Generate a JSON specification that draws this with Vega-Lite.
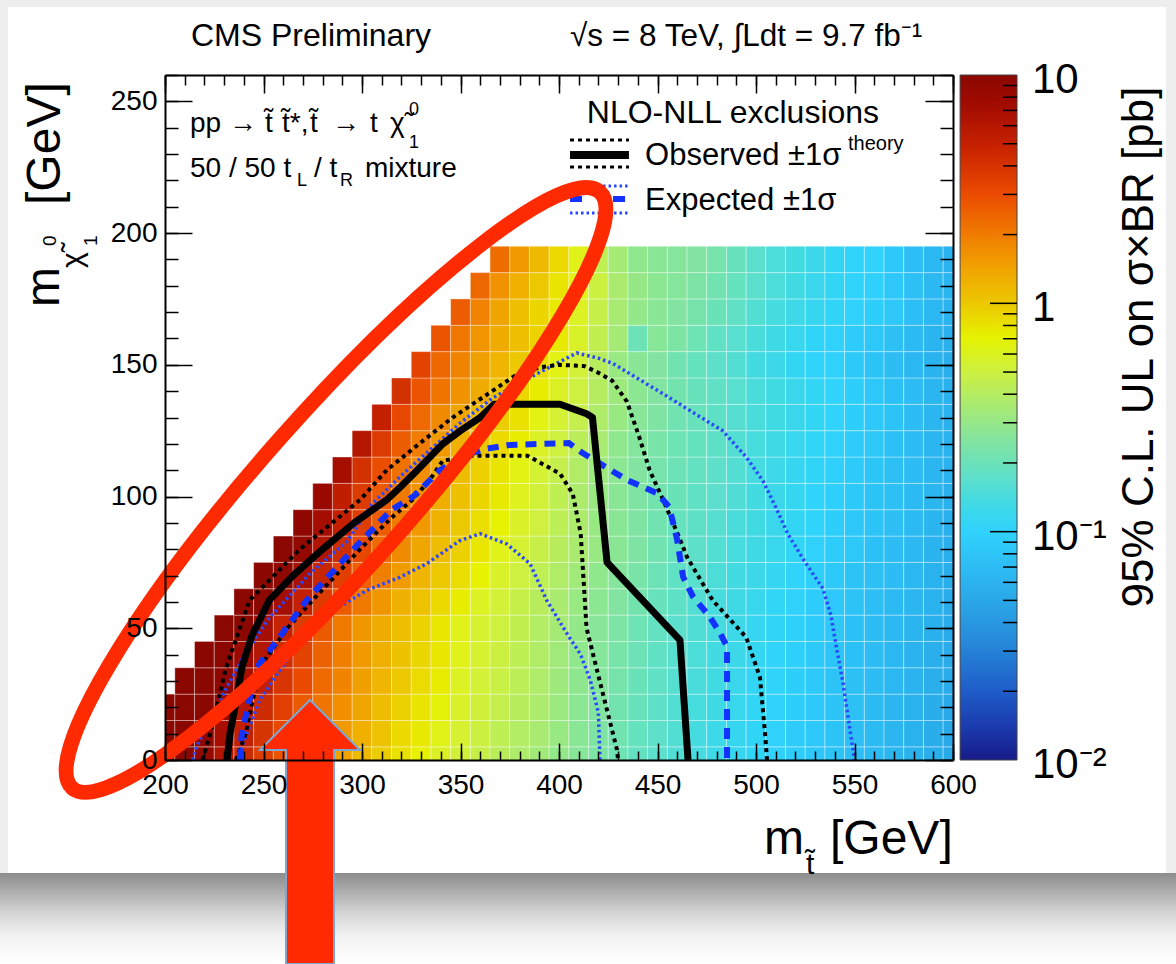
{
"$schema":"https://vega.github.io/schema/vega-lite/v6.json",
"width":788,"height":685,
"autosize":{"type":"none"},
"padding":{"left":165,"top":75,"right":223,"bottom":204},
"background":"#ffffff",
"config":{
 "view":{"stroke":null},
 "axis":{"grid":false,"title":null,"zindex":1,"domainColor":"#000000","domainWidth":2,"tickColor":"#000000","tickWidth":1.5,"labelColor":"#000000","labelFont":"Liberation Sans","labelFontSize":28,"labelFlush":false,"labelOverlap":false,"labelBound":false},
 "text":{"font":"Liberation Sans","color":"#000000"}
},
"resolve":{"scale":{"y":"independent"},"axis":{"x":"independent","y":"independent"}},
"layer":[
{"resolve":{"axis":{"x":"independent","y":"independent"}},
 "layer":[
{"data":{"values":[{}]},"mark":{"type":"rect","fill":"#eeeeee"},
 "encoding":{"x":{"datum":116.2,"type":"quantitative","axis":null},"x2":{"datum":713.2},"y":{"datum":288.5,"type":"quantitative","axis":null},"y2":{"datum":285.8}}},
{"data":{"values":[{}]},"mark":{"type":"rect","fill":"#eeeeee"},
 "encoding":{"x":{"datum":116.2,"type":"quantitative","axis":null},"x2":{"datum":120.3},"y":{"datum":288.5,"type":"quantitative","axis":null},"y2":{"datum":-42.9}}},
{"data":{"values":[{}]},"mark":{"type":"rect","fill":"#eeeeee"},
 "encoding":{"x":{"datum":708.1,"type":"quantitative","axis":null},"x2":{"datum":713.2},"y":{"datum":288.5,"type":"quantitative","axis":null},"y2":{"datum":-42.9}}},
{"data":{"values":[{}]},"mark":{"type":"rect","fill":{"gradient":"linear","x1":0,"y1":0,"x2":0,"y2":1,"stops":[{"offset":0,"color":"#8c8c8c"},{"offset":0.2,"color":"#adadad"},{"offset":0.45,"color":"#d6d6d6"},{"offset":0.7,"color":"#f2f2f2"},{"offset":1,"color":"#ffffff"}]}},
 "encoding":{"x":{"datum":116.2,"type":"quantitative","axis":null},"x2":{"datum":713.2},"y":{"datum":-42.9,"type":"quantitative","axis":null},"y2":{"datum":-77.4}}},
{"data":{"values":[{}]},"mark":{"type":"rect","stroke":"#444444","strokeWidth":1,"fill":{"gradient":"linear","x1":0,"y1":0,"x2":0,"y2":1,"stops":[{"offset":0,"color":"#8a0800"},{"offset":0.04,"color":"#a00a00"},{"offset":0.1,"color":"#c42000"},{"offset":0.1733,"color":"#ea4a00"},{"offset":0.2333,"color":"#f07c00"},{"offset":0.2833,"color":"#f0a400"},{"offset":0.3333,"color":"#ecc800"},{"offset":0.3833,"color":"#e6f200"},{"offset":0.4333,"color":"#ccf040"},{"offset":0.4833,"color":"#a8ea72"},{"offset":0.5333,"color":"#82e4a0"},{"offset":0.59,"color":"#5cdfcc"},{"offset":0.6333,"color":"#3cd8ea"},{"offset":0.6667,"color":"#30d2fc"},{"offset":0.7167,"color":"#2dbdf4"},{"offset":0.7667,"color":"#2aa8e8"},{"offset":0.8333,"color":"#2586d8"},{"offset":0.9,"color":"#1f5cc8"},{"offset":0.95,"color":"#1b3cae"},{"offset":1,"color":"#171a88"}]}},
 "encoding":{"x":{"datum":603.6,"type":"quantitative","axis":null},"x2":{"datum":632.5},"y":{"datum":260,"type":"quantitative","axis":null},"y2":{"datum":0}}},
{"data":{"values":[
{"x":200,"y":0,"v":1},{"x":210,"y":0,"v":1},{"x":220,"y":0,"v":0.95},{"x":230,"y":0,"v":0.8},{"x":240,"y":0,"v":0.66},{"x":250,"y":0,"v":0.55},{"x":260,"y":0,"v":0.45},{"x":270,"y":0,"v":0.35},{"x":280,"y":0,"v":0.25},{"x":290,"y":0,"v":0.15},{"x":300,"y":0,"v":0.06},{"x":310,"y":0,"v":-0.02},{"x":320,"y":0,"v":-0.09},{"x":330,"y":0,"v":-0.15},{"x":340,"y":0,"v":-0.21},{"x":350,"y":0,"v":-0.27},{"x":360,"y":0,"v":-0.32},{"x":370,"y":0,"v":-0.37},{"x":380,"y":0,"v":-0.42},{"x":390,"y":0,"v":-0.47},{"x":400,"y":0,"v":-0.52},{"x":410,"y":0,"v":-0.57},{"x":420,"y":0,"v":-0.62},{"x":430,"y":0,"v":-0.67},{"x":440,"y":0,"v":-0.72},{"x":450,"y":0,"v":-0.77},{"x":460,"y":0,"v":-0.81},{"x":470,"y":0,"v":-0.85},{"x":480,"y":0,"v":-0.89},{"x":490,"y":0,"v":-0.93},{"x":500,"y":0,"v":-0.97},{"x":510,"y":0,"v":-1},{"x":520,"y":0,"v":-1.04},{"x":530,"y":0,"v":-1.07},{"x":540,"y":0,"v":-1.11},{"x":550,"y":0,"v":-1.14},{"x":560,"y":0,"v":-1.17},{"x":570,"y":0,"v":-1.2},{"x":580,"y":0,"v":-1.23},{"x":590,"y":0,"v":-1.26},{"x":600,"y":0,"v":-1.29},
{"x":200,"y":10,"v":1},{"x":210,"y":10,"v":1},{"x":220,"y":10,"v":0.98},{"x":230,"y":10,"v":0.85},{"x":240,"y":10,"v":0.71},{"x":250,"y":10,"v":0.6},{"x":260,"y":10,"v":0.49},{"x":270,"y":10,"v":0.39},{"x":280,"y":10,"v":0.29},{"x":290,"y":10,"v":0.19},{"x":300,"y":10,"v":0.1},{"x":310,"y":10,"v":0.02},{"x":320,"y":10,"v":-0.06},{"x":330,"y":10,"v":-0.12},{"x":340,"y":10,"v":-0.18},{"x":350,"y":10,"v":-0.24},{"x":360,"y":10,"v":-0.3},{"x":370,"y":10,"v":-0.35},{"x":380,"y":10,"v":-0.4},{"x":390,"y":10,"v":-0.45},{"x":400,"y":10,"v":-0.5},{"x":410,"y":10,"v":-0.56},{"x":420,"y":10,"v":-0.61},{"x":430,"y":10,"v":-0.66},{"x":440,"y":10,"v":-0.71},{"x":450,"y":10,"v":-0.76},{"x":460,"y":10,"v":-0.8},{"x":470,"y":10,"v":-0.85},{"x":480,"y":10,"v":-0.89},{"x":490,"y":10,"v":-0.93},{"x":500,"y":10,"v":-0.97},{"x":510,"y":10,"v":-1},{"x":520,"y":10,"v":-1.04},{"x":530,"y":10,"v":-1.07},{"x":540,"y":10,"v":-1.1},{"x":550,"y":10,"v":-1.14},{"x":560,"y":10,"v":-1.17},{"x":570,"y":10,"v":-1.2},{"x":580,"y":10,"v":-1.23},{"x":590,"y":10,"v":-1.26},{"x":600,"y":10,"v":-1.29},
{"x":200,"y":20,"v":1},{"x":210,"y":20,"v":1},{"x":220,"y":20,"v":1},{"x":230,"y":20,"v":0.9},{"x":240,"y":20,"v":0.77},{"x":250,"y":20,"v":0.65},{"x":260,"y":20,"v":0.54},{"x":270,"y":20,"v":0.43},{"x":280,"y":20,"v":0.33},{"x":290,"y":20,"v":0.23},{"x":300,"y":20,"v":0.14},{"x":310,"y":20,"v":0.05},{"x":320,"y":20,"v":-0.03},{"x":330,"y":20,"v":-0.1},{"x":340,"y":20,"v":-0.16},{"x":350,"y":20,"v":-0.22},{"x":360,"y":20,"v":-0.28},{"x":370,"y":20,"v":-0.33},{"x":380,"y":20,"v":-0.38},{"x":390,"y":20,"v":-0.43},{"x":400,"y":20,"v":-0.49},{"x":410,"y":20,"v":-0.55},{"x":420,"y":20,"v":-0.6},{"x":430,"y":20,"v":-0.65},{"x":440,"y":20,"v":-0.7},{"x":450,"y":20,"v":-0.75},{"x":460,"y":20,"v":-0.8},{"x":470,"y":20,"v":-0.84},{"x":480,"y":20,"v":-0.88},{"x":490,"y":20,"v":-0.92},{"x":500,"y":20,"v":-0.96},{"x":510,"y":20,"v":-1},{"x":520,"y":20,"v":-1.03},{"x":530,"y":20,"v":-1.07},{"x":540,"y":20,"v":-1.1},{"x":550,"y":20,"v":-1.13},{"x":560,"y":20,"v":-1.17},{"x":570,"y":20,"v":-1.2},{"x":580,"y":20,"v":-1.23},{"x":590,"y":20,"v":-1.26},{"x":600,"y":20,"v":-1.29},
{"x":210,"y":30,"v":1},{"x":220,"y":30,"v":1},{"x":230,"y":30,"v":0.97},{"x":240,"y":30,"v":0.84},{"x":250,"y":30,"v":0.71},{"x":260,"y":30,"v":0.59},{"x":270,"y":30,"v":0.48},{"x":280,"y":30,"v":0.37},{"x":290,"y":30,"v":0.27},{"x":300,"y":30,"v":0.17},{"x":310,"y":30,"v":0.08},{"x":320,"y":30,"v":0},{"x":330,"y":30,"v":-0.07},{"x":340,"y":30,"v":-0.13},{"x":350,"y":30,"v":-0.2},{"x":360,"y":30,"v":-0.26},{"x":370,"y":30,"v":-0.31},{"x":380,"y":30,"v":-0.36},{"x":390,"y":30,"v":-0.42},{"x":400,"y":30,"v":-0.48},{"x":410,"y":30,"v":-0.54},{"x":420,"y":30,"v":-0.59},{"x":430,"y":30,"v":-0.64},{"x":440,"y":30,"v":-0.69},{"x":450,"y":30,"v":-0.74},{"x":460,"y":30,"v":-0.79},{"x":470,"y":30,"v":-0.83},{"x":480,"y":30,"v":-0.87},{"x":490,"y":30,"v":-0.91},{"x":500,"y":30,"v":-0.95},{"x":510,"y":30,"v":-0.99},{"x":520,"y":30,"v":-1.03},{"x":530,"y":30,"v":-1.06},{"x":540,"y":30,"v":-1.1},{"x":550,"y":30,"v":-1.13},{"x":560,"y":30,"v":-1.16},{"x":570,"y":30,"v":-1.19},{"x":580,"y":30,"v":-1.22},{"x":590,"y":30,"v":-1.25},{"x":600,"y":30,"v":-1.28},
{"x":220,"y":40,"v":1},{"x":230,"y":40,"v":1},{"x":240,"y":40,"v":0.92},{"x":250,"y":40,"v":0.78},{"x":260,"y":40,"v":0.64},{"x":270,"y":40,"v":0.52},{"x":280,"y":40,"v":0.4},{"x":290,"y":40,"v":0.29},{"x":300,"y":40,"v":0.19},{"x":310,"y":40,"v":0.1},{"x":320,"y":40,"v":0.02},{"x":330,"y":40,"v":-0.05},{"x":340,"y":40,"v":-0.11},{"x":350,"y":40,"v":-0.18},{"x":360,"y":40,"v":-0.24},{"x":370,"y":40,"v":-0.3},{"x":380,"y":40,"v":-0.35},{"x":390,"y":40,"v":-0.41},{"x":400,"y":40,"v":-0.47},{"x":410,"y":40,"v":-0.53},{"x":420,"y":40,"v":-0.58},{"x":430,"y":40,"v":-0.63},{"x":440,"y":40,"v":-0.68},{"x":450,"y":40,"v":-0.73},{"x":460,"y":40,"v":-0.78},{"x":470,"y":40,"v":-0.82},{"x":480,"y":40,"v":-0.86},{"x":490,"y":40,"v":-0.9},{"x":500,"y":40,"v":-0.94},{"x":510,"y":40,"v":-0.98},{"x":520,"y":40,"v":-1.02},{"x":530,"y":40,"v":-1.06},{"x":540,"y":40,"v":-1.09},{"x":550,"y":40,"v":-1.12},{"x":560,"y":40,"v":-1.16},{"x":570,"y":40,"v":-1.19},{"x":580,"y":40,"v":-1.22},{"x":590,"y":40,"v":-1.25},{"x":600,"y":40,"v":-1.28},
{"x":230,"y":50,"v":1},{"x":240,"y":50,"v":1},{"x":250,"y":50,"v":0.85},{"x":260,"y":50,"v":0.69},{"x":270,"y":50,"v":0.56},{"x":280,"y":50,"v":0.43},{"x":290,"y":50,"v":0.31},{"x":300,"y":50,"v":0.2},{"x":310,"y":50,"v":0.12},{"x":320,"y":50,"v":0.04},{"x":330,"y":50,"v":-0.04},{"x":340,"y":50,"v":-0.11},{"x":350,"y":50,"v":-0.18},{"x":360,"y":50,"v":-0.24},{"x":370,"y":50,"v":-0.29},{"x":380,"y":50,"v":-0.34},{"x":390,"y":50,"v":-0.4},{"x":400,"y":50,"v":-0.46},{"x":410,"y":50,"v":-0.52},{"x":420,"y":50,"v":-0.57},{"x":430,"y":50,"v":-0.62},{"x":440,"y":50,"v":-0.67},{"x":450,"y":50,"v":-0.72},{"x":460,"y":50,"v":-0.77},{"x":470,"y":50,"v":-0.81},{"x":480,"y":50,"v":-0.85},{"x":490,"y":50,"v":-0.89},{"x":500,"y":50,"v":-0.93},{"x":510,"y":50,"v":-0.97},{"x":520,"y":50,"v":-1.01},{"x":530,"y":50,"v":-1.05},{"x":540,"y":50,"v":-1.08},{"x":550,"y":50,"v":-1.12},{"x":560,"y":50,"v":-1.15},{"x":570,"y":50,"v":-1.18},{"x":580,"y":50,"v":-1.21},{"x":590,"y":50,"v":-1.24},{"x":600,"y":50,"v":-1.27},
{"x":240,"y":60,"v":1},{"x":250,"y":60,"v":1},{"x":260,"y":60,"v":0.86},{"x":270,"y":60,"v":0.7},{"x":280,"y":60,"v":0.56},{"x":290,"y":60,"v":0.43},{"x":300,"y":60,"v":0.31},{"x":310,"y":60,"v":0.2},{"x":320,"y":60,"v":0.1},{"x":330,"y":60,"v":0.02},{"x":340,"y":60,"v":-0.06},{"x":350,"y":60,"v":-0.13},{"x":360,"y":60,"v":-0.2},{"x":370,"y":60,"v":-0.26},{"x":380,"y":60,"v":-0.32},{"x":390,"y":60,"v":-0.38},{"x":400,"y":60,"v":-0.44},{"x":410,"y":60,"v":-0.5},{"x":420,"y":60,"v":-0.55},{"x":430,"y":60,"v":-0.6},{"x":440,"y":60,"v":-0.65},{"x":450,"y":60,"v":-0.7},{"x":460,"y":60,"v":-0.75},{"x":470,"y":60,"v":-0.8},{"x":480,"y":60,"v":-0.84},{"x":490,"y":60,"v":-0.88},{"x":500,"y":60,"v":-0.92},{"x":510,"y":60,"v":-0.96},{"x":520,"y":60,"v":-1},{"x":530,"y":60,"v":-1.04},{"x":540,"y":60,"v":-1.07},{"x":550,"y":60,"v":-1.11},{"x":560,"y":60,"v":-1.14},{"x":570,"y":60,"v":-1.17},{"x":580,"y":60,"v":-1.2},{"x":590,"y":60,"v":-1.23},{"x":600,"y":60,"v":-1.27},
{"x":250,"y":70,"v":1},{"x":260,"y":70,"v":0.98},{"x":270,"y":70,"v":0.84},{"x":280,"y":70,"v":0.68},{"x":290,"y":70,"v":0.54},{"x":300,"y":70,"v":0.41},{"x":310,"y":70,"v":0.29},{"x":320,"y":70,"v":0.18},{"x":330,"y":70,"v":0.08},{"x":340,"y":70,"v":0},{"x":350,"y":70,"v":-0.08},{"x":360,"y":70,"v":-0.15},{"x":370,"y":70,"v":-0.22},{"x":380,"y":70,"v":-0.29},{"x":390,"y":70,"v":-0.35},{"x":400,"y":70,"v":-0.41},{"x":410,"y":70,"v":-0.47},{"x":420,"y":70,"v":-0.53},{"x":430,"y":70,"v":-0.58},{"x":440,"y":70,"v":-0.63},{"x":450,"y":70,"v":-0.68},{"x":460,"y":70,"v":-0.73},{"x":470,"y":70,"v":-0.78},{"x":480,"y":70,"v":-0.82},{"x":490,"y":70,"v":-0.86},{"x":500,"y":70,"v":-0.9},{"x":510,"y":70,"v":-0.94},{"x":520,"y":70,"v":-0.98},{"x":530,"y":70,"v":-1.02},{"x":540,"y":70,"v":-1.06},{"x":550,"y":70,"v":-1.1},{"x":560,"y":70,"v":-1.13},{"x":570,"y":70,"v":-1.16},{"x":580,"y":70,"v":-1.19},{"x":590,"y":70,"v":-1.23},{"x":600,"y":70,"v":-1.26},
{"x":260,"y":80,"v":1},{"x":270,"y":80,"v":0.95},{"x":280,"y":80,"v":0.8},{"x":290,"y":80,"v":0.64},{"x":300,"y":80,"v":0.5},{"x":310,"y":80,"v":0.37},{"x":320,"y":80,"v":0.25},{"x":330,"y":80,"v":0.14},{"x":340,"y":80,"v":0.05},{"x":350,"y":80,"v":-0.03},{"x":360,"y":80,"v":-0.11},{"x":370,"y":80,"v":-0.18},{"x":380,"y":80,"v":-0.25},{"x":390,"y":80,"v":-0.32},{"x":400,"y":80,"v":-0.38},{"x":410,"y":80,"v":-0.44},{"x":420,"y":80,"v":-0.5},{"x":430,"y":80,"v":-0.56},{"x":440,"y":80,"v":-0.61},{"x":450,"y":80,"v":-0.66},{"x":460,"y":80,"v":-0.71},{"x":470,"y":80,"v":-0.76},{"x":480,"y":80,"v":-0.8},{"x":490,"y":80,"v":-0.84},{"x":500,"y":80,"v":-0.88},{"x":510,"y":80,"v":-0.92},{"x":520,"y":80,"v":-0.96},{"x":530,"y":80,"v":-1},{"x":540,"y":80,"v":-1.04},{"x":550,"y":80,"v":-1.08},{"x":560,"y":80,"v":-1.12},{"x":570,"y":80,"v":-1.15},{"x":580,"y":80,"v":-1.18},{"x":590,"y":80,"v":-1.22},{"x":600,"y":80,"v":-1.25},
{"x":270,"y":90,"v":0.97},{"x":280,"y":90,"v":0.86},{"x":290,"y":90,"v":0.7},{"x":300,"y":90,"v":0.55},{"x":310,"y":90,"v":0.42},{"x":320,"y":90,"v":0.3},{"x":330,"y":90,"v":0.19},{"x":340,"y":90,"v":0.09},{"x":350,"y":90,"v":0},{"x":360,"y":90,"v":-0.08},{"x":370,"y":90,"v":-0.15},{"x":380,"y":90,"v":-0.22},{"x":390,"y":90,"v":-0.29},{"x":400,"y":90,"v":-0.36},{"x":410,"y":90,"v":-0.43},{"x":420,"y":90,"v":-0.5},{"x":430,"y":90,"v":-0.56},{"x":440,"y":90,"v":-0.61},{"x":450,"y":90,"v":-0.66},{"x":460,"y":90,"v":-0.71},{"x":470,"y":90,"v":-0.75},{"x":480,"y":90,"v":-0.79},{"x":490,"y":90,"v":-0.83},{"x":500,"y":90,"v":-0.87},{"x":510,"y":90,"v":-0.91},{"x":520,"y":90,"v":-0.95},{"x":530,"y":90,"v":-0.99},{"x":540,"y":90,"v":-1.03},{"x":550,"y":90,"v":-1.07},{"x":560,"y":90,"v":-1.11},{"x":570,"y":90,"v":-1.14},{"x":580,"y":90,"v":-1.17},{"x":590,"y":90,"v":-1.21},{"x":600,"y":90,"v":-1.24},
{"x":280,"y":100,"v":0.92},{"x":290,"y":100,"v":0.72},{"x":300,"y":100,"v":0.56},{"x":310,"y":100,"v":0.43},{"x":320,"y":100,"v":0.31},{"x":330,"y":100,"v":0.21},{"x":340,"y":100,"v":0.11},{"x":350,"y":100,"v":0.03},{"x":360,"y":100,"v":-0.05},{"x":370,"y":100,"v":-0.12},{"x":380,"y":100,"v":-0.19},{"x":390,"y":100,"v":-0.27},{"x":400,"y":100,"v":-0.35},{"x":410,"y":100,"v":-0.43},{"x":420,"y":100,"v":-0.5},{"x":430,"y":100,"v":-0.56},{"x":440,"y":100,"v":-0.61},{"x":450,"y":100,"v":-0.65},{"x":460,"y":100,"v":-0.69},{"x":470,"y":100,"v":-0.73},{"x":480,"y":100,"v":-0.77},{"x":490,"y":100,"v":-0.81},{"x":500,"y":100,"v":-0.86},{"x":510,"y":100,"v":-0.9},{"x":520,"y":100,"v":-0.94},{"x":530,"y":100,"v":-0.98},{"x":540,"y":100,"v":-1.02},{"x":550,"y":100,"v":-1.06},{"x":560,"y":100,"v":-1.1},{"x":570,"y":100,"v":-1.13},{"x":580,"y":100,"v":-1.17},{"x":590,"y":100,"v":-1.2},{"x":600,"y":100,"v":-1.24},
{"x":290,"y":110,"v":0.85},{"x":300,"y":110,"v":0.62},{"x":310,"y":110,"v":0.47},{"x":320,"y":110,"v":0.34},{"x":330,"y":110,"v":0.23},{"x":340,"y":110,"v":0.13},{"x":350,"y":110,"v":0.05},{"x":360,"y":110,"v":-0.03},{"x":370,"y":110,"v":-0.1},{"x":380,"y":110,"v":-0.17},{"x":390,"y":110,"v":-0.25},{"x":400,"y":110,"v":-0.33},{"x":410,"y":110,"v":-0.41},{"x":420,"y":110,"v":-0.48},{"x":430,"y":110,"v":-0.55},{"x":440,"y":110,"v":-0.6},{"x":450,"y":110,"v":-0.64},{"x":460,"y":110,"v":-0.68},{"x":470,"y":110,"v":-0.72},{"x":480,"y":110,"v":-0.76},{"x":490,"y":110,"v":-0.8},{"x":500,"y":110,"v":-0.85},{"x":510,"y":110,"v":-0.89},{"x":520,"y":110,"v":-0.93},{"x":530,"y":110,"v":-0.97},{"x":540,"y":110,"v":-1.01},{"x":550,"y":110,"v":-1.05},{"x":560,"y":110,"v":-1.09},{"x":570,"y":110,"v":-1.13},{"x":580,"y":110,"v":-1.16},{"x":590,"y":110,"v":-1.2},{"x":600,"y":110,"v":-1.23},
{"x":300,"y":120,"v":0.78},{"x":310,"y":120,"v":0.57},{"x":320,"y":120,"v":0.42},{"x":330,"y":120,"v":0.3},{"x":340,"y":120,"v":0.19},{"x":350,"y":120,"v":0.09},{"x":360,"y":120,"v":0.01},{"x":370,"y":120,"v":-0.06},{"x":380,"y":120,"v":-0.13},{"x":390,"y":120,"v":-0.21},{"x":400,"y":120,"v":-0.29},{"x":410,"y":120,"v":-0.37},{"x":420,"y":120,"v":-0.45},{"x":430,"y":120,"v":-0.53},{"x":440,"y":120,"v":-0.59},{"x":450,"y":120,"v":-0.63},{"x":460,"y":120,"v":-0.67},{"x":470,"y":120,"v":-0.71},{"x":480,"y":120,"v":-0.75},{"x":490,"y":120,"v":-0.8},{"x":500,"y":120,"v":-0.84},{"x":510,"y":120,"v":-0.88},{"x":520,"y":120,"v":-0.92},{"x":530,"y":120,"v":-0.96},{"x":540,"y":120,"v":-1},{"x":550,"y":120,"v":-1.04},{"x":560,"y":120,"v":-1.08},{"x":570,"y":120,"v":-1.12},{"x":580,"y":120,"v":-1.16},{"x":590,"y":120,"v":-1.2},{"x":600,"y":120,"v":-1.23},
{"x":310,"y":130,"v":0.7},{"x":320,"y":130,"v":0.5},{"x":330,"y":130,"v":0.37},{"x":340,"y":130,"v":0.25},{"x":350,"y":130,"v":0.15},{"x":360,"y":130,"v":0.06},{"x":370,"y":130,"v":-0.02},{"x":380,"y":130,"v":-0.09},{"x":390,"y":130,"v":-0.17},{"x":400,"y":130,"v":-0.25},{"x":410,"y":130,"v":-0.33},{"x":420,"y":130,"v":-0.42},{"x":430,"y":130,"v":-0.5},{"x":440,"y":130,"v":-0.57},{"x":450,"y":130,"v":-0.61},{"x":460,"y":130,"v":-0.66},{"x":470,"y":130,"v":-0.7},{"x":480,"y":130,"v":-0.75},{"x":490,"y":130,"v":-0.79},{"x":500,"y":130,"v":-0.83},{"x":510,"y":130,"v":-0.87},{"x":520,"y":130,"v":-0.91},{"x":530,"y":130,"v":-0.95},{"x":540,"y":130,"v":-0.99},{"x":550,"y":130,"v":-1.03},{"x":560,"y":130,"v":-1.07},{"x":570,"y":130,"v":-1.11},{"x":580,"y":130,"v":-1.16},{"x":590,"y":130,"v":-1.2},{"x":600,"y":130,"v":-1.23},
{"x":320,"y":140,"v":0.62},{"x":330,"y":140,"v":0.45},{"x":340,"y":140,"v":0.33},{"x":350,"y":140,"v":0.22},{"x":360,"y":140,"v":0.12},{"x":370,"y":140,"v":0.03},{"x":380,"y":140,"v":-0.05},{"x":390,"y":140,"v":-0.13},{"x":400,"y":140,"v":-0.21},{"x":410,"y":140,"v":-0.29},{"x":420,"y":140,"v":-0.39},{"x":430,"y":140,"v":-0.48},{"x":440,"y":140,"v":-0.55},{"x":450,"y":140,"v":-0.6},{"x":460,"y":140,"v":-0.65},{"x":470,"y":140,"v":-0.7},{"x":480,"y":140,"v":-0.74},{"x":490,"y":140,"v":-0.78},{"x":500,"y":140,"v":-0.83},{"x":510,"y":140,"v":-0.87},{"x":520,"y":140,"v":-0.91},{"x":530,"y":140,"v":-0.95},{"x":540,"y":140,"v":-0.99},{"x":550,"y":140,"v":-1.03},{"x":560,"y":140,"v":-1.07},{"x":570,"y":140,"v":-1.12},{"x":580,"y":140,"v":-1.16},{"x":590,"y":140,"v":-1.2},{"x":600,"y":140,"v":-1.23},
{"x":330,"y":150,"v":0.52},{"x":340,"y":150,"v":0.38},{"x":350,"y":150,"v":0.27},{"x":360,"y":150,"v":0.17},{"x":370,"y":150,"v":0.08},{"x":380,"y":150,"v":0},{"x":390,"y":150,"v":-0.08},{"x":400,"y":150,"v":-0.17},{"x":410,"y":150,"v":-0.26},{"x":420,"y":150,"v":-0.38},{"x":430,"y":150,"v":-0.5},{"x":440,"y":150,"v":-0.56},{"x":450,"y":150,"v":-0.6},{"x":460,"y":150,"v":-0.66},{"x":470,"y":150,"v":-0.71},{"x":480,"y":150,"v":-0.76},{"x":490,"y":150,"v":-0.8},{"x":500,"y":150,"v":-0.86},{"x":510,"y":150,"v":-0.9},{"x":520,"y":150,"v":-0.95},{"x":530,"y":150,"v":-0.99},{"x":540,"y":150,"v":-1},{"x":550,"y":150,"v":-1.06},{"x":560,"y":150,"v":-1.1},{"x":570,"y":150,"v":-1.15},{"x":580,"y":150,"v":-1.19},{"x":590,"y":150,"v":-1.22},{"x":600,"y":150,"v":-1.25},
{"x":340,"y":160,"v":0.45},{"x":350,"y":160,"v":0.32},{"x":360,"y":160,"v":0.21},{"x":370,"y":160,"v":0.12},{"x":380,"y":160,"v":0.04},{"x":390,"y":160,"v":-0.04},{"x":400,"y":160,"v":-0.12},{"x":410,"y":160,"v":-0.22},{"x":420,"y":160,"v":-0.34},{"x":430,"y":160,"v":-0.46},{"x":440,"y":160,"v":-0.68},{"x":450,"y":160,"v":-0.57},{"x":460,"y":160,"v":-0.62},{"x":470,"y":160,"v":-0.67},{"x":480,"y":160,"v":-0.73},{"x":490,"y":160,"v":-0.78},{"x":500,"y":160,"v":-0.83},{"x":510,"y":160,"v":-0.88},{"x":520,"y":160,"v":-0.92},{"x":530,"y":160,"v":-0.97},{"x":540,"y":160,"v":-1},{"x":550,"y":160,"v":-1.04},{"x":560,"y":160,"v":-1.08},{"x":570,"y":160,"v":-1.13},{"x":580,"y":160,"v":-1.17},{"x":590,"y":160,"v":-1.21},{"x":600,"y":160,"v":-1.24},
{"x":350,"y":170,"v":0.42},{"x":360,"y":170,"v":0.28},{"x":370,"y":170,"v":0.15},{"x":380,"y":170,"v":0.04},{"x":390,"y":170,"v":-0.05},{"x":400,"y":170,"v":-0.12},{"x":410,"y":170,"v":-0.2},{"x":420,"y":170,"v":-0.32},{"x":430,"y":170,"v":-0.45},{"x":440,"y":170,"v":-0.52},{"x":450,"y":170,"v":-0.56},{"x":460,"y":170,"v":-0.6},{"x":470,"y":170,"v":-0.64},{"x":480,"y":170,"v":-0.69},{"x":490,"y":170,"v":-0.74},{"x":500,"y":170,"v":-0.8},{"x":510,"y":170,"v":-0.85},{"x":520,"y":170,"v":-0.89},{"x":530,"y":170,"v":-0.93},{"x":540,"y":170,"v":-0.97},{"x":550,"y":170,"v":-1},{"x":560,"y":170,"v":-1.03},{"x":570,"y":170,"v":-1.08},{"x":580,"y":170,"v":-1.14},{"x":590,"y":170,"v":-1.19},{"x":600,"y":170,"v":-1.22},
{"x":360,"y":180,"v":0.38},{"x":370,"y":180,"v":0.22},{"x":380,"y":180,"v":0.1},{"x":390,"y":180,"v":0},{"x":400,"y":180,"v":-0.1},{"x":410,"y":180,"v":-0.18},{"x":420,"y":180,"v":-0.3},{"x":430,"y":180,"v":-0.44},{"x":440,"y":180,"v":-0.51},{"x":450,"y":180,"v":-0.55},{"x":460,"y":180,"v":-0.58},{"x":470,"y":180,"v":-0.62},{"x":480,"y":180,"v":-0.66},{"x":490,"y":180,"v":-0.71},{"x":500,"y":180,"v":-0.77},{"x":510,"y":180,"v":-0.82},{"x":520,"y":180,"v":-0.87},{"x":530,"y":180,"v":-0.91},{"x":540,"y":180,"v":-0.95},{"x":550,"y":180,"v":-0.99},{"x":560,"y":180,"v":-1.01},{"x":570,"y":180,"v":-1.07},{"x":580,"y":180,"v":-1.13},{"x":590,"y":180,"v":-1.18},{"x":600,"y":180,"v":-1.21},
{"x":370,"y":190,"v":0.36},{"x":380,"y":190,"v":0.18},{"x":390,"y":190,"v":0.06},{"x":400,"y":190,"v":-0.06},{"x":410,"y":190,"v":-0.18},{"x":420,"y":190,"v":-0.35},{"x":430,"y":190,"v":-0.46},{"x":440,"y":190,"v":-0.53},{"x":450,"y":190,"v":-0.56},{"x":460,"y":190,"v":-0.58},{"x":470,"y":190,"v":-0.6},{"x":480,"y":190,"v":-0.64},{"x":490,"y":190,"v":-0.7},{"x":500,"y":190,"v":-0.77},{"x":510,"y":190,"v":-0.82},{"x":520,"y":190,"v":-0.86},{"x":530,"y":190,"v":-0.9},{"x":540,"y":190,"v":-0.95},{"x":550,"y":190,"v":-0.99},{"x":560,"y":190,"v":-1},{"x":570,"y":190,"v":-1.06},{"x":580,"y":190,"v":-1.14},{"x":590,"y":190,"v":-1.19},{"x":600,"y":190,"v":-1.22}
]},
 "mark":{"type":"point","shape":"M -0.7476 -1 L 0.7476 -1 L 0.7476 1 L -0.7476 1 Z","size":694,"filled":true,"opacity":1,"stroke":"#ffffff","strokeWidth":1,"strokeOpacity":0.35,"clip":true},
 "encoding":{
  "x":{"field":"x","type":"quantitative","scale":{"domain":[200,600],"nice":false,"zero":false},"axis":{"orient":"bottom","values":[200,250,300,350,400,450,500,550,600],"tickSize":-17,"labelPadding":28,"zindex":1}},
  "y":{"field":"y","type":"quantitative","scale":{"domain":[0,260],"nice":false,"zero":false},"axis":{"orient":"left","values":[0,50,100,150,200,250],"tickSize":-27,"labelPadding":35,"zindex":1}},
  "color":{"field":"v","type":"quantitative","scale":{"domain":[-2,-1.85,-1.7,-1.5,-1.3,-1.15,-1,-0.9,-0.77,-0.6,-0.45,-0.3,-0.15,0,0.15,0.3,0.48,0.7,0.88,1],"range":["#171a88","#1b3cae","#1f5cc8","#2586d8","#2aa8e8","#2dbdf4","#30d2fc","#3cd8ea","#5cdfcc","#82e4a0","#a8ea72","#ccf040","#e6f200","#ecc800","#f0a400","#f07c00","#ea4a00","#c42000","#a00a00","#8a0800"],"clamp":true},"legend":null}
 }},
{"data":{"values":[{"i":0,"x":236.4,"y":0},{"i":1,"x":248,"y":22.7},{"i":2,"x":261.8,"y":37.9},{"i":3,"x":285.4,"y":56.8},{"i":4,"x":302.4,"y":64.4},{"i":5,"x":319.3,"y":69.4},{"i":6,"x":332.8,"y":74.5},{"i":7,"x":349.7,"y":83.3},{"i":8,"x":359.9,"y":85.9},{"i":9,"x":373.5,"y":82},{"i":10,"x":385.3,"y":74.5},{"i":11,"x":393.8,"y":60.6},{"i":12,"x":404,"y":48},{"i":13,"x":411,"y":40},{"i":14,"x":416,"y":30},{"i":15,"x":420,"y":18},{"i":16,"x":420.8,"y":0}]},
 "mark":{"type":"line","color":"#2a46ff","strokeWidth":3.5,"strokeDash":[2.5,3],"clip":true},
 "encoding":{"x":{"field":"x","type":"quantitative","axis":null},"y":{"field":"y","type":"quantitative","axis":null},"order":{"field":"i","type":"quantitative"}}},
{"data":{"values":[{"i":0,"x":214,"y":0},{"i":1,"x":216,"y":5},{"i":2,"x":226,"y":20},{"i":3,"x":239.6,"y":39},{"i":4,"x":253,"y":54},{"i":5,"x":273.6,"y":70.8},{"i":6,"x":292.4,"y":83},{"i":7,"x":305,"y":97},{"i":8,"x":320,"y":108},{"i":9,"x":335,"y":118},{"i":10,"x":350,"y":128},{"i":11,"x":366.5,"y":137.5},{"i":12,"x":388.8,"y":146.6},{"i":13,"x":400,"y":151},{"i":14,"x":409,"y":154.5},{"i":15,"x":420,"y":152.5},{"i":16,"x":427.4,"y":150.5},{"i":17,"x":452.8,"y":139},{"i":18,"x":470,"y":131},{"i":19,"x":483,"y":125},{"i":20,"x":495,"y":115},{"i":21,"x":503.5,"y":106},{"i":22,"x":510,"y":96},{"i":23,"x":516,"y":86},{"i":24,"x":525,"y":75},{"i":25,"x":534,"y":65},{"i":26,"x":538,"y":55},{"i":27,"x":541,"y":42},{"i":28,"x":544,"y":30},{"i":29,"x":547,"y":15},{"i":30,"x":550,"y":0}]},
 "mark":{"type":"line","color":"#2a46ff","strokeWidth":3.5,"strokeDash":[2.5,3],"clip":true},
 "encoding":{"x":{"field":"x","type":"quantitative","axis":{"orient":"top","values":[200,210,220,230,240,250,260,270,280,290,300,310,320,330,340,350,360,370,380,390,400,410,420,430,440,450,460,470,480,490,500,510,520,530,540,550,560,570,580,590,600],"tickSize":-10,"labels":false,"domain":false,"zindex":1}},"y":{"field":"y","type":"quantitative","axis":{"orient":"right","values":[0,10,20,30,40,50,60,70,80,90,100,110,120,130,140,150,160,170,180,190,200,210,220,230,240,250,260],"tickSize":-13,"labels":false,"domain":false,"zindex":1}},"order":{"field":"i","type":"quantitative"}}},
{"data":{"values":[{"i":0,"x":219,"y":0},{"i":1,"x":223,"y":10},{"i":2,"x":231,"y":35},{"i":3,"x":243,"y":60.7},{"i":4,"x":268.5,"y":80},{"i":5,"x":299,"y":98.7},{"i":6,"x":312.5,"y":110},{"i":7,"x":329,"y":120},{"i":8,"x":346,"y":130},{"i":9,"x":362,"y":138},{"i":10,"x":378,"y":146},{"i":11,"x":390,"y":149},{"i":12,"x":400,"y":150},{"i":13,"x":413,"y":149.5},{"i":14,"x":420,"y":147},{"i":15,"x":427,"y":144},{"i":16,"x":434.5,"y":136},{"i":17,"x":441,"y":122},{"i":18,"x":446,"y":110},{"i":19,"x":453,"y":98.5},{"i":20,"x":461,"y":84.5},{"i":21,"x":465,"y":77},{"i":22,"x":478,"y":60.6},{"i":23,"x":495,"y":46.6},{"i":24,"x":502,"y":31.4},{"i":25,"x":504.6,"y":10},{"i":26,"x":505.6,"y":0}]},
 "mark":{"type":"line","color":"#000000","strokeWidth":4,"strokeDash":[4,4],"clip":true},
 "encoding":{"x":{"field":"x","type":"quantitative","axis":{"orient":"bottom","values":[200,210,220,230,240,250,260,270,280,290,300,310,320,330,340,350,360,370,380,390,400,410,420,430,440,450,460,470,480,490,500,510,520,530,540,550,560,570,580,590,600],"tickSize":-9,"labels":false,"domain":false,"zindex":1}},"y":{"field":"y","type":"quantitative","axis":{"orient":"left","values":[0,10,20,30,40,50,60,70,80,90,100,110,120,130,140,150,160,170,180,190,200,210,220,230,240,250,260],"tickSize":-13,"labels":false,"domain":false,"zindex":1}},"order":{"field":"i","type":"quantitative"}}},
{"data":{"values":[{"i":0,"x":236,"y":0},{"i":1,"x":241,"y":10},{"i":2,"x":248,"y":35},{"i":3,"x":262,"y":50},{"i":4,"x":275,"y":60.7},{"i":5,"x":299,"y":80},{"i":6,"x":315,"y":92},{"i":7,"x":326,"y":99},{"i":8,"x":335,"y":107},{"i":9,"x":341,"y":113.6},{"i":10,"x":355,"y":115.5},{"i":11,"x":384,"y":115.5},{"i":12,"x":400.5,"y":108.7},{"i":13,"x":407,"y":101},{"i":14,"x":411,"y":86},{"i":15,"x":414,"y":50},{"i":16,"x":421,"y":29},{"i":17,"x":429.4,"y":4},{"i":18,"x":430,"y":0}]},
 "mark":{"type":"line","color":"#000000","strokeWidth":4,"strokeDash":[4,4],"clip":true},
 "encoding":{"x":{"field":"x","type":"quantitative","axis":null},"y":{"field":"y","type":"quantitative","axis":null},"order":{"field":"i","type":"quantitative"}}},
{"data":{"values":[{"i":0,"x":238,"y":0},{"i":1,"x":239,"y":10},{"i":2,"x":246.5,"y":35},{"i":3,"x":257,"y":45.5},{"i":4,"x":272,"y":60.7},{"i":5,"x":295.6,"y":80},{"i":6,"x":315,"y":95},{"i":7,"x":326,"y":100},{"i":8,"x":339.6,"y":110},{"i":9,"x":350,"y":115},{"i":10,"x":362,"y":118},{"i":11,"x":375,"y":119.6},{"i":12,"x":405,"y":120.3},{"i":13,"x":412,"y":116.5},{"i":14,"x":434.5,"y":106.3},{"i":15,"x":449.7,"y":101.3},{"i":16,"x":456,"y":96},{"i":17,"x":460,"y":83.5},{"i":18,"x":463,"y":69.5},{"i":19,"x":468,"y":62},{"i":20,"x":476.6,"y":54.3},{"i":21,"x":481.7,"y":48.2},{"i":22,"x":485.3,"y":43},{"i":23,"x":485.3,"y":0}]},
 "mark":{"type":"line","color":"#1432ff","strokeWidth":6,"strokeDash":[11,8],"clip":true},
 "encoding":{"x":{"field":"x","type":"quantitative","axis":{"orient":"top","values":[200,250,300,350,400,450,500,550,600],"tickSize":-18,"labels":false,"domain":true,"zindex":1}},"y":{"field":"y","type":"quantitative","axis":{"orient":"right","values":[0,50,100,150,200,250],"tickSize":-28,"labels":false,"domain":true,"zindex":1}},"order":{"field":"i","type":"quantitative"}}},
{"data":{"values":[{"i":0,"x":231.5,"y":0},{"i":1,"x":233,"y":10},{"i":2,"x":236,"y":22},{"i":3,"x":239,"y":35},{"i":4,"x":244,"y":47},{"i":5,"x":253,"y":60.7},{"i":6,"x":265,"y":70},{"i":7,"x":280,"y":80},{"i":8,"x":296,"y":90},{"i":9,"x":312.5,"y":98.7},{"i":10,"x":320,"y":104},{"i":11,"x":328,"y":110},{"i":12,"x":341,"y":120},{"i":13,"x":350,"y":125},{"i":14,"x":360,"y":130},{"i":15,"x":367,"y":135},{"i":16,"x":400.5,"y":135},{"i":17,"x":414,"y":131.4},{"i":18,"x":417,"y":130},{"i":19,"x":424.4,"y":75},{"i":20,"x":461.4,"y":45.5},{"i":21,"x":465.5,"y":0}]},
 "mark":{"type":"line","color":"#000000","strokeWidth":7,"strokeJoin":"round","clip":true},
 "encoding":{"x":{"field":"x","type":"quantitative","axis":null},"y":{"field":"y","type":"quantitative","axis":null},"order":{"field":"i","type":"quantitative"}}},
{"data":{"values":[{}]},"mark":{"type":"rule","color":"#000000","strokeWidth":3,"strokeDash":[4,4]},"encoding":{"x":{"datum":405.6,"type":"quantitative","axis":null},"x2":{"datum":435.5},"y":{"datum":235.3,"type":"quantitative","axis":null}}},
{"data":{"values":[{}]},"mark":{"type":"rule","color":"#000000","strokeWidth":8},"encoding":{"x":{"datum":405.6,"type":"quantitative","axis":null},"x2":{"datum":435.5},"y":{"datum":229.6,"type":"quantitative","axis":null}}},
{"data":{"values":[{}]},"mark":{"type":"rule","color":"#000000","strokeWidth":3,"strokeDash":[4,4]},"encoding":{"x":{"datum":405.6,"type":"quantitative","axis":null},"x2":{"datum":435.5},"y":{"datum":225.1,"type":"quantitative","axis":null}}},
{"data":{"values":[{}]},"mark":{"type":"rule","color":"#2a46ff","strokeWidth":3,"strokeDash":[2.5,3]},"encoding":{"x":{"datum":405.6,"type":"quantitative","axis":null},"x2":{"datum":435.5},"y":{"datum":217.9,"type":"quantitative","axis":null}}},
{"data":{"values":[{}]},"mark":{"type":"rule","color":"#1432ff","strokeWidth":6,"strokeDash":[12,31]},"encoding":{"x":{"datum":405.6,"type":"quantitative","axis":null},"x2":{"datum":435.5},"y":{"datum":212.9,"type":"quantitative","axis":null}}},
{"data":{"values":[{}]},"mark":{"type":"rule","color":"#2a46ff","strokeWidth":3,"strokeDash":[2.5,3]},"encoding":{"x":{"datum":405.6,"type":"quantitative","axis":null},"x2":{"datum":435.5},"y":{"datum":207.6,"type":"quantitative","axis":null}}},
{"data":{"values":[{}]},"mark":{"type":"text","text":"NLO-NLL exclusions","fontSize":32,"align":"center","baseline":"alphabetic"},"encoding":{"x":{"datum":488.3,"type":"quantitative","axis":null},"y":{"datum":241.8,"type":"quantitative","axis":null}}},
{"data":{"values":[{}]},"mark":{"type":"text","text":"Observed \u00b11\u03c3","fontSize":31,"align":"left","baseline":"alphabetic"},"encoding":{"x":{"datum":443.7,"type":"quantitative","axis":null},"y":{"datum":225.8,"type":"quantitative","axis":null}}},
{"data":{"values":[{}]},"mark":{"type":"text","text":"theory","fontSize":20,"align":"left","baseline":"alphabetic"},"encoding":{"x":{"datum":546.7,"type":"quantitative","axis":null},"y":{"datum":231.5,"type":"quantitative","axis":null}}},
{"data":{"values":[{}]},"mark":{"type":"text","text":"Expected \u00b11\u03c3","fontSize":31,"align":"left","baseline":"alphabetic"},"encoding":{"x":{"datum":443.7,"type":"quantitative","axis":null},"y":{"datum":208.8,"type":"quantitative","axis":null}}},
{"data":{"values":[{}]},"mark":{"type":"text","text":"CMS Preliminary","fontSize":32,"align":"left","baseline":"alphabetic"},"encoding":{"x":{"datum":213.2,"type":"quantitative","axis":null},"y":{"datum":271,"type":"quantitative","axis":null}}},
{"data":{"values":[{}]},"mark":{"type":"text","text":"\u221as = 8 TeV, \u222bLdt = 9.7 fb\u207b\u00b9","fontSize":31.5,"align":"left","baseline":"alphabetic"},"encoding":{"x":{"datum":405.6,"type":"quantitative","axis":null},"y":{"datum":271,"type":"quantitative","axis":null}}},
{"data":{"values":[{}]},"mark":{"type":"text","text":"pp \u2192","fontSize":28,"align":"left","baseline":"alphabetic"},"encoding":{"x":{"datum":212.69,"type":"quantitative","axis":null},"y":{"datum":238.36,"type":"quantitative","axis":null}}},
{"data":{"values":[{}]},"mark":{"type":"text","text":"t\u0303","fontSize":28,"align":"left","baseline":"alphabetic"},"encoding":{"x":{"datum":250.76,"type":"quantitative","axis":null},"y":{"datum":238.36,"type":"quantitative","axis":null}}},
{"data":{"values":[{}]},"mark":{"type":"text","text":"t\u0303*,","fontSize":28,"align":"left","baseline":"alphabetic"},"encoding":{"x":{"datum":259.39,"type":"quantitative","axis":null},"y":{"datum":238.36,"type":"quantitative","axis":null}}},
{"data":{"values":[{}]},"mark":{"type":"text","text":"t\u0303","fontSize":28,"align":"left","baseline":"alphabetic"},"encoding":{"x":{"datum":273.6,"type":"quantitative","axis":null},"y":{"datum":238.36,"type":"quantitative","axis":null}}},
{"data":{"values":[{}]},"mark":{"type":"text","text":"\u2192","fontSize":28,"align":"left","baseline":"alphabetic"},"encoding":{"x":{"datum":284.77,"type":"quantitative","axis":null},"y":{"datum":238.36,"type":"quantitative","axis":null}}},
{"data":{"values":[{}]},"mark":{"type":"text","text":"t","fontSize":28,"align":"left","baseline":"alphabetic"},"encoding":{"x":{"datum":304.06,"type":"quantitative","axis":null},"y":{"datum":238.36,"type":"quantitative","axis":null}}},
{"data":{"values":[{}]},"mark":{"type":"text","text":"\u03c7\u0303","fontSize":28,"align":"left","baseline":"alphabetic"},"encoding":{"x":{"datum":314.21,"type":"quantitative","axis":null},"y":{"datum":238.36,"type":"quantitative","axis":null}}},
{"data":{"values":[{}]},"mark":{"type":"text","text":"0","fontSize":18,"align":"left","baseline":"alphabetic"},"encoding":{"x":{"datum":323.86,"type":"quantitative","axis":null},"y":{"datum":244.8,"type":"quantitative","axis":null}}},
{"data":{"values":[{}]},"mark":{"type":"text","text":"1","fontSize":18,"align":"left","baseline":"alphabetic"},"encoding":{"x":{"datum":323.86,"type":"quantitative","axis":null},"y":{"datum":232.3,"type":"quantitative","axis":null}}},
{"data":{"values":[{}]},"mark":{"type":"text","text":"50 / 50 t","fontSize":28,"align":"left","baseline":"alphabetic"},"encoding":{"x":{"datum":212.69,"type":"quantitative","axis":null},"y":{"datum":221.29,"type":"quantitative","axis":null}}},
{"data":{"values":[{}]},"mark":{"type":"text","text":"L","fontSize":18,"align":"left","baseline":"alphabetic"},"encoding":{"x":{"datum":267.0,"type":"quantitative","axis":null},"y":{"datum":217.87,"type":"quantitative","axis":null}}},
{"data":{"values":[{}]},"mark":{"type":"text","text":"/ t","fontSize":28,"align":"left","baseline":"alphabetic"},"encoding":{"x":{"datum":275.6,"type":"quantitative","axis":null},"y":{"datum":221.29,"type":"quantitative","axis":null}}},
{"data":{"values":[{}]},"mark":{"type":"text","text":"R","fontSize":18,"align":"left","baseline":"alphabetic"},"encoding":{"x":{"datum":288.8,"type":"quantitative","axis":null},"y":{"datum":217.87,"type":"quantitative","axis":null}}},
{"data":{"values":[{}]},"mark":{"type":"text","text":"mixture","fontSize":28,"align":"left","baseline":"alphabetic"},"encoding":{"x":{"datum":301.5,"type":"quantitative","axis":null},"y":{"datum":221.29,"type":"quantitative","axis":null}}},
{"data":{"values":[{}]},"mark":{"type":"text","text":"m","fontSize":48,"align":"left","baseline":"alphabetic"},"encoding":{"x":{"datum":504.06,"type":"quantitative","axis":null},"y":{"datum":-35.68,"type":"quantitative","axis":null}}},
{"data":{"values":[{}]},"mark":{"type":"text","text":"t\u0303","fontSize":30,"align":"left","baseline":"alphabetic"},"encoding":{"x":{"datum":525.38,"type":"quantitative","axis":null},"y":{"datum":-43.27,"type":"quantitative","axis":null}}},
{"data":{"values":[{}]},"mark":{"type":"text","text":"[GeV]","fontSize":48,"align":"left","baseline":"alphabetic"},"encoding":{"x":{"datum":537.56,"type":"quantitative","axis":null},"y":{"datum":-35.68,"type":"quantitative","axis":null}}},
{"data":{"values":[{}]},"mark":{"type":"text","text":"m","fontSize":48,"angle":-90,"align":"left","baseline":"alphabetic"},"encoding":{"x":{"datum":146.19,"type":"quantitative","axis":null},"y":{"datum":171.94,"type":"quantitative","axis":null}}},
{"data":{"values":[{}]},"mark":{"type":"text","text":"\u03c7\u0303","fontSize":30,"angle":-90,"align":"left","baseline":"alphabetic"},"encoding":{"x":{"datum":157.87,"type":"quantitative","axis":null},"y":{"datum":186.75,"type":"quantitative","axis":null}}},
{"data":{"values":[{}]},"mark":{"type":"text","text":"0","fontSize":19,"angle":-90,"align":"left","baseline":"alphabetic"},"encoding":{"x":{"datum":144.67,"type":"quantitative","axis":null},"y":{"datum":195.09,"type":"quantitative","axis":null}}},
{"data":{"values":[{}]},"mark":{"type":"text","text":"1","fontSize":19,"angle":-90,"align":"left","baseline":"alphabetic"},"encoding":{"x":{"datum":165.48,"type":"quantitative","axis":null},"y":{"datum":195.09,"type":"quantitative","axis":null}}},
{"data":{"values":[{}]},"mark":{"type":"text","text":"[GeV]","fontSize":48,"angle":-90,"align":"left","baseline":"alphabetic"},"encoding":{"x":{"datum":146.7,"type":"quantitative","axis":null},"y":{"datum":210.66,"type":"quantitative","axis":null}}},
{"data":{"values":[{}]},"mark":{"type":"text","text":"95% C.L. UL on \u03c3\u00d7BR [pb]","fontSize":44,"angle":-90,"align":"center","baseline":"middle"},"encoding":{"x":{"datum":694.92,"type":"quantitative","axis":null},"y":{"datum":156.76,"type":"quantitative","axis":null}}},
{"data":{"values":[{}]},"mark":{"type":"text","text":"10","fontSize":42,"align":"left","baseline":"middle"},"encoding":{"x":{"datum":640.1,"type":"quantitative","axis":null},"y":{"datum":258.1,"type":"quantitative","axis":null}}},
{"data":{"values":[{}]},"mark":{"type":"text","text":"1","fontSize":42,"align":"left","baseline":"middle"},"encoding":{"x":{"datum":640.1,"type":"quantitative","axis":null},"y":{"datum":171.6,"type":"quantitative","axis":null}}},
{"data":{"values":[{}]},"mark":{"type":"text","text":"10\u207b\u00b9","fontSize":42,"align":"left","baseline":"middle"},"encoding":{"x":{"datum":640.1,"type":"quantitative","axis":null},"y":{"datum":84.6,"type":"quantitative","axis":null}}},
{"data":{"values":[{}]},"mark":{"type":"text","text":"10\u207b\u00b2","fontSize":42,"align":"left","baseline":"middle"},"encoding":{"x":{"datum":640.1,"type":"quantitative","axis":null},"y":{"datum":-1.9,"type":"quantitative","axis":null}}},
{"data":{"values":[{}]},"mark":{"type":"point","shape":"M -1 0 C -1 -0.1055 -0.552 -0.191 0 -0.191 C 0.552 -0.191 1 -0.1055 1 0 C 1 0.1055 0.552 0.191 0 0.191 C -0.552 0.191 -1 0.1055 -1 0 Z","size":633616,"angle":-48.5,"filled":false,"opacity":1,"stroke":"#ff2a00","strokeWidth":15},"encoding":{"x":{"datum":286.8,"type":"quantitative","axis":null},"y":{"datum":102.5,"type":"quantitative","axis":null}}},
{"data":{"values":[{}]},"mark":{"type":"point","shape":"M 0 -1 L 0.379 -0.621 L 0.182 -0.621 L 0.182 1 L -0.182 1 L -0.182 -0.621 L -0.379 -0.621 Z","size":69696,"filled":true,"opacity":1,"fill":"#ff2a00","stroke":"#7ea6d4","strokeWidth":2},"encoding":{"x":{"datum":273.6,"type":"quantitative","axis":null},"y":{"datum":-27.33,"type":"quantitative","axis":null}}}
 ]},
{"data":{"values":[{"t":-1.699},{"t":-1.523},{"t":-1.398},{"t":-1.301},{"t":-1.222},{"t":-1.155},{"t":-1.097},{"t":-1.046},{"t":-0.699},{"t":-0.523},{"t":-0.398},{"t":-0.301},{"t":-0.222},{"t":-0.155},{"t":-0.097},{"t":-0.046},{"t":0.301},{"t":0.477},{"t":0.602},{"t":0.699},{"t":0.778},{"t":0.845},{"t":0.903},{"t":0.954}]},
 "mark":{"type":"rule","color":"#000000","strokeWidth":1.5},
 "encoding":{"y":{"field":"t","type":"quantitative","scale":{"domain":[-2,1],"nice":false,"zero":false},"axis":null},"x":{"datum":625.4,"type":"quantitative","axis":null},"x2":{"datum":632.5}}},
{"data":{"values":[{"t":-1},{"t":0}]},
 "mark":{"type":"rule","color":"#000000","strokeWidth":1.5},
 "encoding":{"y":{"field":"t","type":"quantitative","scale":{"domain":[-2,1],"nice":false,"zero":false},"axis":null},"x":{"datum":618.8,"type":"quantitative","axis":null},"x2":{"datum":632.5}}}
]
}
